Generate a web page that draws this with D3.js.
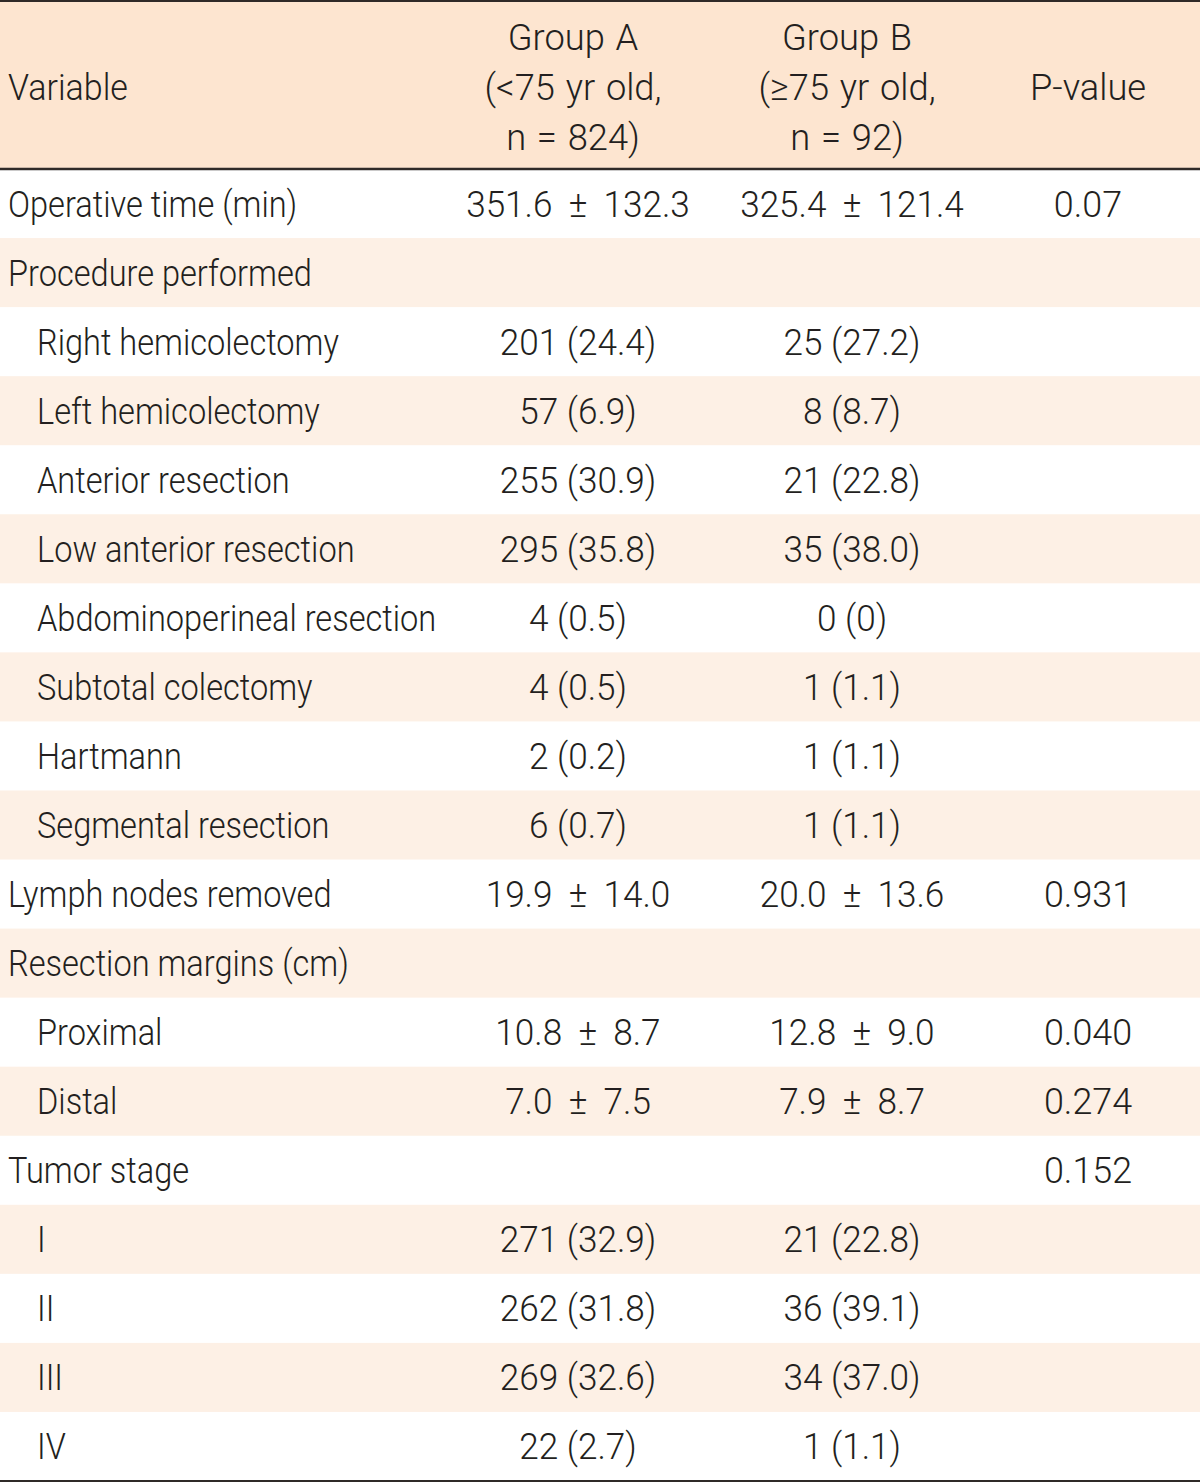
<!DOCTYPE html>
<html><head><meta charset="utf-8">
<script src="https://cdn.jsdelivr.net/npm/d3@7"></script>
<style>
html,body{margin:0;padding:0;background:#fff;}
text{font-family:Roboto,"Liberation Sans",sans-serif;font-weight:300;fill:#231f20;}
</style></head>
<body>
<svg id="chart" width="1200" height="1484"></svg>
<script>
const headerLines = {
  variable: ["Variable"],
  groupA: ["Group A", "(<75 yr old,", "n = 824)"],
  groupB: ["Group B", "(\u226575 yr old,", "n = 92)"],
  pvalue: ["P-value"]
};
const variables = ["Operative time (min)","Procedure performed","Right hemicolectomy","Left hemicolectomy","Anterior resection","Low anterior resection","Abdominoperineal resection","Subtotal colectomy","Hartmann","Segmental resection","Lymph nodes removed","Resection margins (cm)","Proximal","Distal","Tumor stage","I","II","III","IV"];
const indented = [false,false,true,true,true,true,true,true,true,true,false,false,true,true,false,true,true,true,true];
const groupA = ["351.6 \u00b1 132.3","","201 (24.4)","57 (6.9)","255 (30.9)","295 (35.8)","4 (0.5)","4 (0.5)","2 (0.2)","6 (0.7)","19.9 \u00b1 14.0","","10.8 \u00b1 8.7","7.0 \u00b1 7.5","","271 (32.9)","262 (31.8)","269 (32.6)","22 (2.7)"];
const groupB = ["325.4 \u00b1 121.4","","25 (27.2)","8 (8.7)","21 (22.8)","35 (38.0)","0 (0)","1 (1.1)","1 (1.1)","1 (1.1)","20.0 \u00b1 13.6","","12.8 \u00b1 9.0","7.9 \u00b1 8.7","","21 (22.8)","36 (39.1)","34 (37.0)","1 (1.1)"];
const pvalues = ["0.07","","","","","","","","","","0.931","","0.040","0.274","0.152","","","",""];

const W = 1200, headerTop = 2, headerBottom = 169, tableBottom = 1481;
const svg = d3.select("#chart");
const fs = 37;

const y = d3.scaleBand().domain(d3.range(variables.length)).range([headerBottom, tableBottom]).padding(0);
const colX = d3.scaleOrdinal().domain(["groupA","groupB","pvalue"]).range([578, 852, 1088]);

svg.append("rect").attr("x",0).attr("y",headerTop).attr("width",W).attr("height",headerBottom-headerTop).attr("fill","#fde5d0");

svg.selectAll("rect.stripe").data(d3.range(variables.length).filter(i=>i%2===1))
  .join("rect").attr("class","stripe")
  .attr("x",0).attr("y",i=>y(i)).attr("width",W).attr("height",y.bandwidth())
  .attr("fill","#fdf0e5");

const lines = [[1,2.2],[headerBottom,2.6],[tableBottom,2.2]];
svg.selectAll("line.rule").data(lines).join("line").attr("class","rule")
  .attr("x1",0).attr("x2",W).attr("y1",d=>d[0]).attr("y2",d=>d[0])
  .attr("stroke","#2f2a28").attr("stroke-width",d=>d[1]);

function put(sel, x, yv, t, anchor, sx, ws){
  sel.append("text")
    .attr("transform",`translate(${x},${yv}) scale(${sx},1)`)
    .attr("text-anchor",anchor||"start").attr("font-size",fs)
    .attr("word-spacing", ws||0).text(t);
}
const hBase = [50, 100, 150];
put(svg, 8, hBase[1], headerLines.variable[0], "start", 0.92);
["groupA","groupB"].forEach(k=>{
  headerLines[k].forEach((t,i)=>put(svg, colX(k)-5, hBase[i], t, "middle", 0.98, 2));
});
put(svg, colX("pvalue"), hBase[1], headerLines.pvalue[0], "middle", 0.98);

const wsFor = t => t.includes("\u00b1") ? 8 : 0;
d3.range(variables.length).forEach(i=>{
  const yb = y(i)+y.bandwidth()/2+13;
  put(svg, indented[i]?37:8, yb, variables[i], "start", 0.88);
  put(svg, colX("groupA"), yb, groupA[i], "middle", 0.95, wsFor(groupA[i]));
  put(svg, colX("groupB"), yb, groupB[i], "middle", 0.95, wsFor(groupB[i]));
  put(svg, colX("pvalue"), yb, pvalues[i], "middle", 0.97);
});
</script>
</body></html>
